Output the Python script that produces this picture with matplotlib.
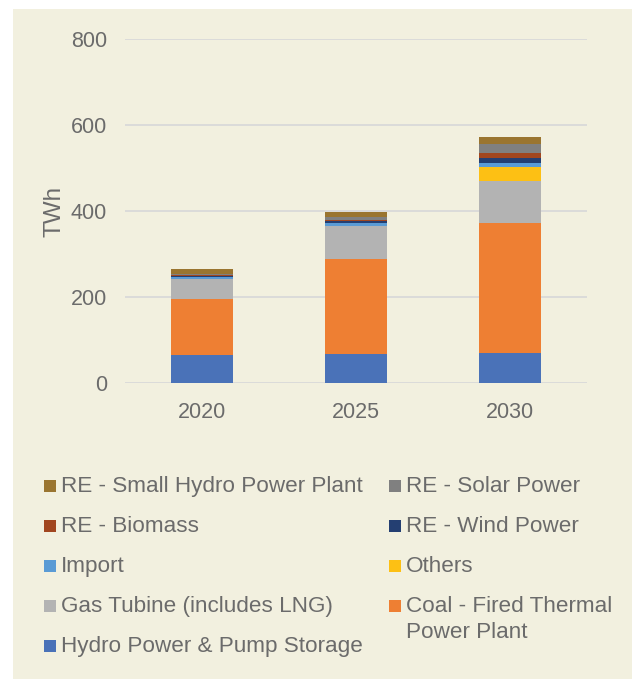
import numpy as np
import matplotlib
matplotlib.use("Agg")
import matplotlib.pyplot as plt
from matplotlib.patches import Rectangle

plt.rcParams["font.family"] = ["Liberation Sans", "DejaVu Sans"]

YEARS = ["2020", "2025", "2030"]

# stacked bottom -> top
SERIES = [
    "Hydro Power & Pump Storage",
    "Coal - Fired Thermal\nPower Plant",
    "Gas Tubine (includes LNG)",
    "Others",
    "Import",
    "RE - Wind Power",
    "RE - Biomass",
    "RE - Solar Power",
    "RE - Small Hydro Power Plant",
]
hydro = [65, 68, 69]
coal = [130, 220, 304]
gas = [46, 77, 97]
others = [0, 0, 32]
imports = [6, 8, 9]
wind = [2, 3, 12]
biomass = [2, 3, 12]
solar = [2, 6, 20]
small_hydro = [11, 13, 18]
VALUES = [hydro, coal, gas, others, imports, wind, biomass, solar, small_hydro]

COLORS = ["#4a72b8", "#ee7f33", "#b3b3b3", "#fdc014", "#5a9bd5",
          "#243f72", "#a1461f", "#808080", "#9a7530"]

BG = "#f2f0df"
TXT = "#6b6b6b"
W, H = 632, 679

fig = plt.figure(figsize=(W / 100, H / 100), dpi=100)
fig.patches.append(Rectangle((12.5 / W, 0), 1 - 12.5 / W, (H - 9) / H,
                             transform=fig.transFigure, facecolor=BG,
                             edgecolor="none", zorder=-10))

ax = fig.add_axes([125 / W, (H - 383) / H, 462 / W, 344 / H])
ax.set_facecolor("none")

x = np.arange(len(YEARS))
bottom = np.zeros(len(YEARS))
for name, vals, col in zip(SERIES, VALUES, COLORS):
    ax.bar(x, vals, width=0.4, bottom=bottom, color=col, linewidth=0, zorder=3)
    bottom += np.array(vals)

ax.set_xlim(-0.5, 2.5)
ax.set_ylim(0, 800)
ax.set_yticks([0, 200, 400, 600, 800])
ax.set_xticks(x)
ax.set_xticklabels(YEARS)
ax.yaxis.grid(True, color="#d9d9d9", linewidth=1.3, zorder=0)
ax.set_axisbelow(True)
for s in ax.spines.values():
    s.set_visible(False)
ax.tick_params(axis="both", length=0, labelsize=15.5, colors=TXT)
ax.tick_params(axis="y", pad=13)
ax.tick_params(axis="x", pad=14)
ax.set_ylabel("TWh", fontsize=17.5, color=TXT, labelpad=4)

# legend, filled row by row in reverse stacking order
leg_order = list(range(len(SERIES)))[::-1]
row_base = [491.7, 532, 572, 612, 652]
col_box = [43.5, 389.5]
col_txt = [61, 406]
for k, idx in enumerate(leg_order):
    r, c = divmod(k, 2)
    yb = row_base[r]
    fig.patches.append(Rectangle((col_box[c] / W, 1 - (yb + 0.3) / H), 12 / W, 12 / H,
                                 transform=fig.transFigure, facecolor=COLORS[idx],
                                 edgecolor="none"))
    lines = SERIES[idx].split("\n")
    for j, line in enumerate(lines):
        fig.text(col_txt[c] / W, 1 - (yb + 26 * j) / H, line, fontsize=16.2,
                 color=TXT, va="baseline", ha="left")

fig.savefig("out.png", dpi=100)
